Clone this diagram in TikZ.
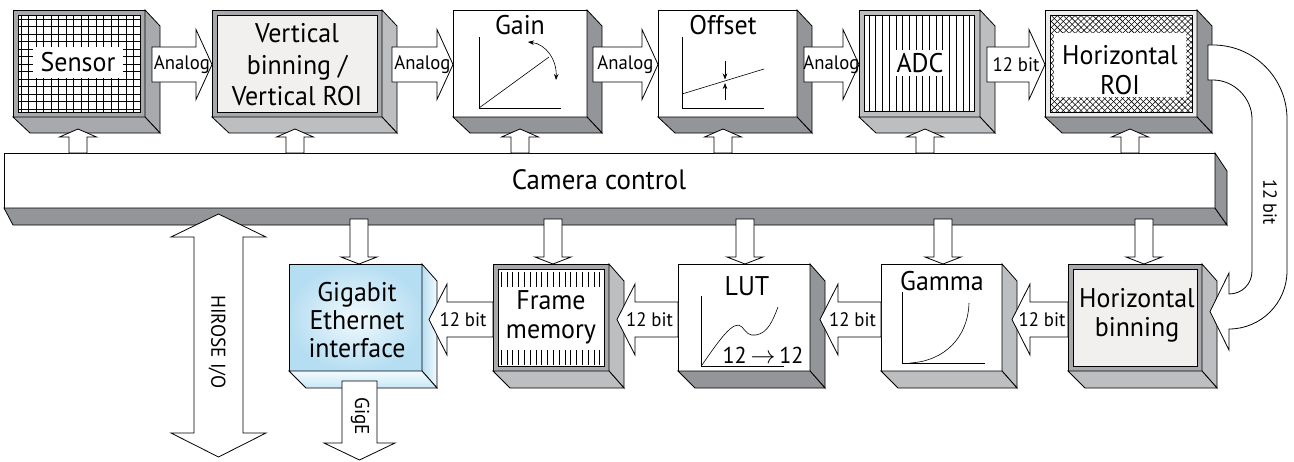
\documentclass[tikz,border=0pt]{standalone}
\usepackage{fontspec}
\setmainfont{PT Sans}[FakeStretch=0.96]
\usetikzlibrary{calc,patterns.meta,arrows.meta}
\definecolor{sidedark}{HTML}{939598}
\definecolor{sidelight}{HTML}{BCBEC0}
\definecolor{framegray}{HTML}{A7A9AC}
\definecolor{innerfill}{HTML}{F2EFEF}
\definecolor{hroiframe}{HTML}{EDEDED}
\definecolor{gbin}{HTML}{F2FAFE}
\definecolor{gbout}{HTML}{B6DEF2}
\definecolor{gbside}{HTML}{C8E7F7}
\tikzset{
  front/.style={draw, line width=0.8pt, inner sep=0pt, outer sep=0pt},
  lbl/.style={font=\fontsize{27}{30}\selectfont, align=center, inner sep=0pt},
  small/.style={font=\fontsize{19.5}{22}\selectfont, inner sep=0pt},
  blk/.style={draw, fill=white, line width=0.8pt, line join=miter},
  thinl/.style={line width=0.6pt},
  tip/.style={-{Stealth[length=6pt,width=4.5pt]}},
}
\newcommand\boxsides[3]{% node, fill, dy
  \draw[line width=0.8pt, fill=#2] (#1.north east) -- ++(15,#3) -- ($(#1.south east)+(15,#3)$) -- (#1.south east) -- cycle;
  \draw[line width=0.8pt, fill=#2] (#1.south west) -- (#1.south east) -- ($(#1.south east)+(15,#3)$) -- ($(#1.south west)+(17,#3)$) -- cycle;}
\newcommand\rarr[3]{% start, tip, label
  \draw[blk] let \p1=(#1), \p2=(#2) in (\x1,\y2+17.5pt) -- (\x2-16pt,\y2+17.5pt) -- (\x2-16pt,\y2+35pt) -- (\x2,\y2) -- (\x2-16pt,\y2-35pt) -- (\x2-16pt,\y2-17.5pt) -- (\x1,\y2-17.5pt) -- cycle;
  \path let \p1=(#1), \p2=(#2) in node[small] at ({(\x1+\x2)/2},\y2) {#3};}
\newcommand\larr[3]{% start, tip, label
  \draw[blk] let \p1=(#1), \p2=(#2) in (\x1,\y2+17.5pt) -- (\x2+18pt,\y2+17.5pt) -- (\x2+18pt,\y2+35.5pt) -- (\x2,\y2) -- (\x2+18pt,\y2-35.5pt) -- (\x2+18pt,\y2-17.5pt) -- (\x1,\y2-17.5pt) -- cycle;
  \path let \p1=(#1), \p2=(#2) in node[small] at ({(\x1+\x2)/2+2pt},\y2) {#3};}
\newcommand\uarr[2]{% start (y only), tip
  \draw[blk] let \p1=(#1), \p2=(#2) in (\x2-9pt,\y1) -- (\x2-9pt,\y2-8pt) -- (\x2-18.5pt,\y2-8pt) -- (\x2,\y2) -- (\x2+18.5pt,\y2-8pt) -- (\x2+9pt,\y2-8pt) -- (\x2+9pt,\y1) -- cycle;}
\newcommand\darr[2]{% start (y only), tip
  \draw[blk] let \p1=(#1), \p2=(#2) in (\x2-9pt,\y1) -- (\x2-9pt,\y2+7pt) -- (\x2-18pt,\y2+7pt) -- (\x2,\y2) -- (\x2+18pt,\y2+7pt) -- (\x2+9pt,\y2+7pt) -- (\x2+9pt,\y1) -- cycle;}
\begin{document}
\begin{tikzpicture}[x=1pt,y=-1pt]
\useasboundingbox (0,0) rectangle (1294,461);
\fill[white] (0,0) rectangle (1294,461);

% ---------- Camera control bar ----------
\node[front, fill=white, minimum width=1211, minimum height=55] (bar) at (609.5,180.5) {};
\draw[line width=0.8pt, fill=sidedark] (bar.south west) -- (bar.south east) -- ($(bar.south east)+(12,17)$) -- ($(bar.south west)+(9,17)$) -- cycle;
\draw[line width=0.8pt, fill=sidedark] (bar.north east) -- ($(bar.north east)+(12,18)$) -- ($(bar.south east)+(12,17)$) -- (bar.south east) -- cycle;
\node[font=\fontsize{28}{30}\selectfont, inner sep=0pt] (barlbl) at (599,180) {Camera control};

% ---------- Top row ----------
% Sensor
\node[front, fill=framegray, minimum width=132, minimum height=107] (sensor) at (79,63.5) {};
\boxsides{sensor}{framegray}{16}
\draw[thinl, fill=white] ($(sensor.north west)+(5,5)$) rectangle ($(sensor.south east)+(-5,-5)$);
\begin{scope}
  \clip ($(sensor.north west)+(5,5)$) rectangle ($(sensor.south east)+(-5,-5)$);
  \foreach \xx in {21,28.5,...,140} \draw[line width=0.5pt] (\xx,15) -- (\xx,112);
  \foreach \yy in {19,26.5,...,112} \draw[line width=0.5pt] (18,\yy) -- (140,\yy);
\end{scope}
\node[lbl, fill=white, minimum width=90, minimum height=31] (sensorlbl) at (78,62.5) {Sensor};

% Vertical binning
\node[front, fill=framegray, minimum width=170, minimum height=107] (vb) at (297,63.5) {};
\boxsides{vb}{sidelight}{16}
\draw[thinl, fill=innerfill] ($(vb.north west)+(5,5)$) rectangle ($(vb.south east)+(-5,-5)$);
\node[lbl, font=\fontsize{27}{31.5}\selectfont] (vblbl) at (297,65) {Vertical\\binning /\\Vertical ROI};

% Gain
\node[front, fill=white, minimum width=134, minimum height=107] (gain) at (520,63.5) {};
\boxsides{gain}{sidedark}{16}
\node[lbl] (gainlbl) at (520,25) {Gain};
\draw[thinl] (479,37) -- (479,108) -- (561,108);
\draw[thinl] (479,108) -- (549,57);
\draw[thinl, {Stealth[length=6pt,width=4.5pt]}-{Stealth[length=6pt,width=4.5pt]}] (528,42) .. controls (546,44) and (557,60) .. (556,80);

% Offset
\node[front, fill=white, minimum width=139, minimum height=107] (offset) at (727.5,63.5) {};
\boxsides{offset}{sidedark}{16}
\node[lbl] (offsetlbl) at (723,25) {Offset};
\draw[thinl] (682,37) -- (682,108) -- (764,108);
\draw[thinl] (682,94) -- (764,69);
\draw[thinl, tip] (725,61) -- (725,79.5);
\draw[thinl, tip] (725,100) -- (725,83);

% ADC
\node[front, fill=sidelight, minimum width=121, minimum height=107] (adc) at (919.5,63.5) {};
\boxsides{adc}{sidelight}{16}
\draw[thinl, fill=white] ($(adc.north west)+(5,5)$) rectangle ($(adc.south east)+(-6,-6)$);
\foreach \xx in {869,875.7,...,972} \draw[line width=0.6pt] (\xx,15) -- (\xx,111);
\node[lbl, fill=white, inner sep=3pt] (adclbl) at (920,63) {ADC};

% Horizontal ROI
\node[front, fill=hroiframe, minimum width=152, minimum height=107] (hroi) at (1121,63.5) {};
\boxsides{hroi}{sidedark}{16}
\draw[thinl, fill=white] ($(hroi.north west)+(5,5)$) rectangle ($(hroi.south east)+(-5,-5)$);
\fill[pattern={Lines[angle=45,distance=4.2pt,line width=0.55pt]}] ($(hroi.north west)+(5,5)$) rectangle ($(hroi.south east)+(-5,-5)$);
\fill[pattern={Lines[angle=-45,distance=4.2pt,line width=0.55pt]}] ($(hroi.north west)+(5,5)$) rectangle ($(hroi.south east)+(-5,-5)$);
\fill[white] (1054,33) rectangle (1186,97);
\node[lbl, font=\fontsize{27}{30}\selectfont] (hroilbl) at (1120,70) {Horizontal\\ROI};

% ---------- Bottom row ----------
% Gigabit
\node[front, shading=radial, inner color=gbin, outer color=gbout, minimum width=133, minimum height=107] (gig) at (355.5,317.5) {};
\draw[line width=0.8pt, left color=gbout, right color=gbin] (gig.north east) -- ++(15,17) -- ($(gig.south east)+(15,17)$) -- (gig.south east) -- cycle;
\draw[line width=0.8pt, top color=gbin, bottom color=gbside] (gig.south west) -- (gig.south east) -- ($(gig.south east)+(15,17)$) -- ($(gig.south west)+(17,17)$) -- cycle;
\node[lbl, font=\fontsize{27}{28}\selectfont] (giglbl) at (357,320) {Gigabit\\Ethernet\\interface};

% Frame memory
\node[front, fill=framegray, minimum width=116, minimum height=107] (fm) at (551,317.5) {};
\boxsides{fm}{sidelight}{17}
\draw[line width=1pt, fill=white] ($(fm.north west)+(5,5)$) rectangle ($(fm.south east)+(-5,-5)$);
\foreach \xx in {501,506.8,...,602} {\draw[line width=0.6pt] (\xx,272) -- (\xx,287); \draw[line width=0.6pt] (\xx,350) -- (\xx,365);}
\node[lbl, font=\fontsize{27}{29}\selectfont] (fmlbl) at (551,317) {Frame\\memory};

% LUT
\node[front, fill=white, minimum width=132, minimum height=107] (lut) at (744,317.5) {};
\boxsides{lut}{sidedark}{17}
\node[lbl] (lutlbl) at (747,286) {LUT};
\draw[thinl] (701,296) -- (701,366) -- (784,366);
\draw[thinl] (702,365) .. controls (718,342) and (734,318) .. (742,327) .. controls (747,333) and (749,336) .. (756,335) .. controls (768,333) and (773,320) .. (778,307);
\node[font=\fontsize{23}{26}\selectfont, inner sep=0pt] (lutmap) at (763,355) {12\,$\rightarrow$\,12};

% Gamma
\node[front, fill=white, minimum width=121, minimum height=107] (gamma) at (941.5,317.5) {};
\boxsides{gamma}{sidelight}{17}
\node[lbl] (gammalbl) at (942,281) {Gamma};
\draw[thinl] (902,292) -- (902,363) -- (985,363);
\draw[thinl] (910,363) .. controls (945,361) and (968,337) .. (969,303);

% Horizontal binning
\node[front, fill=framegray, minimum width=134, minimum height=107] (hb) at (1135,317.5) {};
\boxsides{hb}{sidelight}{17}
\draw[thinl, fill=innerfill] ($(hb.north west)+(5,5)$) rectangle ($(hb.south east)+(-5,-5)$);
\node[lbl, font=\fontsize{27}{29}\selectfont] (hblbl) at (1137,315) {Horizontal\\binning};

% ---------- Top row arrows ----------
\rarr{$(sensor.east)+(7,0)$}{$(vb.west)+(0,1)$}{Analog}
\rarr{$(vb.east)+(10,0)$}{$(gain.west)+(0,1)$}{Analog}
\rarr{$(gain.east)+(6,0)$}{$(offset.west)+(0,1)$}{Analog}
\rarr{$(offset.east)+(7,0)$}{$(adc.west)+(0,1)$}{Analog}
\rarr{$(adc.east)+(7,0)$}{$(hroi.west)+(0,1)$}{12 bit}

% ---------- Bottom row arrows ----------
\larr{fm.west}{$(gig.east)+(7,2)$}{12 bit}
\larr{lut.west}{$(fm.east)+(8,2)$}{12 bit}
\larr{gamma.west}{$(lut.east)+(10,2)$}{12 bit}
\larr{hb.west}{$(gamma.east)+(10,2)$}{12 bit}

% ---------- Control arrows ----------
\uarr{bar.north}{$(sensor.south)+(-1,12)$}
\uarr{bar.north}{$(vb.south)+(-2,12)$}
\uarr{bar.north}{$(gain.south)+(0,12)$}
\uarr{bar.north}{$(offset.south)+(-4.5,12)$}
\uarr{bar.north}{$(adc.south)+(5.5,12)$}
\uarr{bar.north}{$(hroi.south)+(9,12)$}
\darr{$(bar.south)+(0,11)$}{$(gig.north)+(3.5,0)$}
\darr{$(bar.south)+(0,11)$}{$(fm.north)+(2,0)$}
\darr{$(bar.south)+(0,11)$}{$(lut.north)+(1,0)$}
\darr{$(bar.south)+(0,11)$}{$(gamma.north)+(1.5,0)$}
\darr{$(bar.south)+(0,11)$}{$(hb.north)+(9,0)$}

% ---------- HIROSE I/O ----------
\coordinate (hiroT) at (218.5,214);
\coordinate (hiroB) at (218.5,457);
\draw[blk] (hiroT) -- ++(47.5,23) -- ++(-23,0) -- ($(hiroB)+(24.5,-24)$) -- ++(23,0) -- (hiroB) -- ++(-47.5,-24) -- ++(23,0) -- ($(hiroT)+(-24.5,23)$) -- ++(-23,0) -- cycle;
\node[small, font=\fontsize{20}{22}\selectfont, rotate=-90] (hirolbl) at (217,342) {HIROSE I/O};

% ---------- GigE ----------
\coordinate (gigeT) at ($(gig.south)+(4,10)$);
\coordinate (gigeB) at (359.5,460);
\draw[blk] ($(gigeT)+(-17.5,0)$) -- ($(gigeT)+(17.5,0)$) -- ($(gigeB)+(17.5,-17)$) -- ++(18,0) -- (gigeB) -- ($(gigeB)+(-35.5,-17)$) -- ++(18,0) -- cycle;
\node[small, font=\fontsize{20}{22}\selectfont, rotate=-90] (gigelbl) at (360,416) {GigE};

% ---------- curved 12 bit arrow ----------
\draw[blk] (1208,45) -- (1213,45) .. controls (1254,45) and (1287,78) .. (1287,119) -- (1287,271) .. controls (1287,303) and (1261,329) .. (1229,329) -- (1229,350) -- (1210,311.5) -- (1229,273) -- (1229,294) .. controls (1242,294) and (1252,284) .. (1252,271) -- (1252,119) .. controls (1252,98) and (1234,80) .. (1213,80) -- (1208,80) -- cycle;
\node[small, font=\fontsize{19}{22}\selectfont, rotate=-90] (c12lbl) at (1270,202) {12 bit};
\end{tikzpicture}
\end{document}
